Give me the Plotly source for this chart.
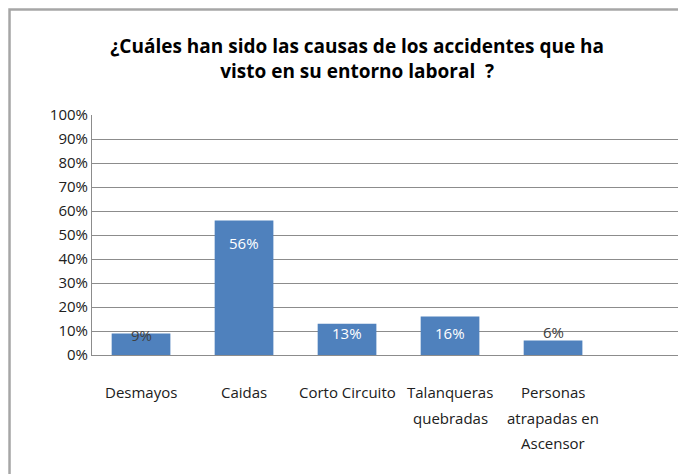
import plotly.graph_objects as go

# Data
categories = ["Desmayos", "Caidas", "Corto Circuito", "Talanqueras<br>quebradas",
              "Personas<br>atrapadas en<br>Ascensor"]
values = [9, 56, 13, 16, 6]
labels = ["9%", "56%", "13%", "16%", "6%"]
y_ticks = list(range(0, 101, 10))
y_tick_labels = [f"{v}%" for v in y_ticks]

FONT = "Open Sans, Liberation Sans, sans-serif"
BLUE = "#4f81bd"
GRID = "#8c8c8c"

x_pos = list(range(len(categories)))

fig = go.Figure()
fig.add_trace(go.Bar(
    x=x_pos,
    y=values,
    width=0.57,
    marker=dict(color=BLUE, line=dict(width=0)),
    hoverinfo="skip",
))

# value labels, placed like the original (some inside, some on top)
label_colors = ["#404040", "white", "white", "white", "#404040"]
label_shift = [-2, -22, -9, -16, 9]
for x, v, t, c, s in zip(x_pos, values, labels, label_colors, label_shift):
    fig.add_annotation(x=x, y=v, text=t, showarrow=False, yanchor="middle",
                       yshift=s, font=dict(family=FONT, size=15, color=c))

# category labels under the axis, one annotation per line (wider line spacing than ticks)
for x, cat in zip(x_pos, categories):
    for i, line in enumerate(cat.split("<br>")):
        fig.add_annotation(x=x, y=0, text=line, showarrow=False, yanchor="middle",
                           yshift=-(37 + 25.5 * i),
                           font=dict(family=FONT, size=15, color="#202020"))

# outer chart border
fig.add_shape(type="rect", xref="paper", yref="paper",
              x0=-0.1405, x1=1.0068, y0=-0.6, y1=1.4396,
              line=dict(color="#a6a6a6", width=2.5), layer="below")

fig.update_layout(
    width=686, height=474,
    margin=dict(l=84, r=15, t=107, b=127),
    paper_bgcolor="white", plot_bgcolor="white",
    showlegend=False,
    font=dict(family=FONT, size=15, color="#202020"),
    title=dict(
        text="<b>¿Cuáles han sido las causas de los accidentes que ha<br>visto en su entorno laboral  ?</b>",
        x=0.509, xanchor="center", y=0.905, yanchor="middle",
        font=dict(family=FONT, size=19, color="black"),
    ),
    xaxis=dict(
        tickmode="array", tickvals=x_pos, showticklabels=False,
        range=[-0.476, 5.223], showgrid=False, ticks="",
        showline=True, linecolor=GRID, linewidth=1, automargin=False,
        zeroline=False,
    ),
    yaxis=dict(
        range=[0, 100], tickmode="array", tickvals=y_ticks, ticktext=y_tick_labels,
        showgrid=True, gridcolor=GRID, gridwidth=1, automargin=False,
        showline=True, linecolor=GRID, linewidth=1, mirror=False,
        ticks="", tickfont=dict(size=15, color="#202020"), zeroline=False,
    ),
)

fig.write_html("out.html")
